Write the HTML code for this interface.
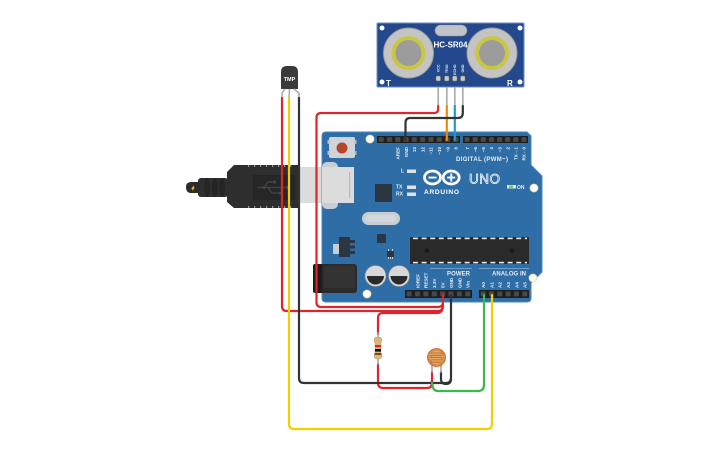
<!DOCTYPE html>
<html><head><meta charset="utf-8">
<style>
html,body{margin:0;padding:0;background:#fff;width:725px;height:453px;overflow:hidden}
svg{display:block}
text{font-family:"Liberation Sans",sans-serif}
</style></head>
<body>
<svg width="725" height="453" viewBox="0 0 725 453" xmlns="http://www.w3.org/2000/svg">
<defs>
<pattern id="h1" x="377" y="136" width="8.3" height="7" patternUnits="userSpaceOnUse"><rect x="1.7" y="1.2" width="4.9" height="4.6" fill="#4a4a4a"/></pattern>
<pattern id="h2" x="463" y="136" width="8.125" height="7" patternUnits="userSpaceOnUse"><rect x="1.6" y="1.2" width="4.9" height="4.6" fill="#4a4a4a"/></pattern>
<pattern id="h3" x="405" y="290" width="8.375" height="8" patternUnits="userSpaceOnUse"><rect x="1.7" y="1.5" width="4.9" height="4.8" fill="#4a4a4a"/></pattern>
<pattern id="h4" x="479" y="290" width="8.33" height="8" patternUnits="userSpaceOnUse"><rect x="1.7" y="1.5" width="4.9" height="4.8" fill="#4a4a4a"/></pattern>
<pattern id="dash" x="413" y="0" width="8.6" height="4" patternUnits="userSpaceOnUse"><rect x="0" y="0" width="5" height="4" fill="#e8e8e8"/></pattern>
</defs>

<!-- ===== USB plug ===== -->
<rect x="300" y="167" width="54" height="36" fill="#dcdcdc"/>
<rect x="349" y="172" width="1.2" height="26" fill="#b8b8b8"/>
<path d="M186,187 Q186,182 191,182 L199,182 L199,193 L191,193 Q186,193 186,187 Z" fill="#2b2b2b"/>
<path d="M191,189 L194,185 L193.5,187.5 L195,187.5 L192,191 L192.5,188.8 Z" fill="#f0d000"/>
<rect x="198" y="178" width="30" height="19" rx="3" fill="#2e2e2e"/>
<ellipse cx="207" cy="187.5" rx="3" ry="9.5" fill="#252525"/>
<ellipse cx="215" cy="187.5" rx="3" ry="9.5" fill="#252525"/>
<ellipse cx="222" cy="187.5" rx="3" ry="9.5" fill="#252525"/>
<path d="M227,172 L234,165 L300,165 L300,208 L234,208 L227,202 Z" fill="#2e2e2e"/>
<rect x="253" y="175" width="42" height="25" fill="#262626"/>
<g stroke="#444" stroke-width="1.3" fill="none">
<line x1="258" y1="187.5" x2="288" y2="187.5"/>
<path d="M264,187.5 L268,182 L274,182"/>
<path d="M268,187.5 L272,193 L279,193"/>
</g>
<circle cx="288" cy="187.5" r="1.8" fill="#444"/>
<circle cx="264" cy="187.5" r="1.5" fill="#444"/>
<rect x="273" y="180.5" width="3" height="3" fill="#444"/>
<circle cx="280" cy="193" r="1.5" fill="#444"/>
<g fill="#fff" opacity="0.5">
<rect x="248" y="165" width="1.2" height="2"/><rect x="254" y="165" width="1.2" height="2"/><rect x="260" y="165" width="1.2" height="2"/><rect x="266" y="165" width="1.2" height="2"/><rect x="272" y="165" width="1.2" height="2"/><rect x="278" y="165" width="1.2" height="2"/><rect x="284" y="165" width="1.2" height="2"/><rect x="290" y="165" width="1.2" height="2"/>
<rect x="248" y="206" width="1.2" height="2"/><rect x="254" y="206" width="1.2" height="2"/><rect x="260" y="206" width="1.2" height="2"/><rect x="266" y="206" width="1.2" height="2"/><rect x="272" y="206" width="1.2" height="2"/><rect x="278" y="206" width="1.2" height="2"/><rect x="284" y="206" width="1.2" height="2"/><rect x="290" y="206" width="1.2" height="2"/>
</g>

<!-- ===== Arduino board ===== -->
<path d="M326,132 L527,132 L531,136 L531,165 L542,176 L542,272 L531,283 L531,298 Q531,302 527,302 L326,302 Q322,302 322,298 L322,136 Q322,132 326,132 Z" fill="#2f6da6" stroke="#4c87bd" stroke-width="1"/>
<rect x="322" y="162" width="16" height="47" rx="5" fill="#c9cfd5"/>
<rect x="322" y="167" width="32" height="36" fill="#dcdcdc"/>
<rect x="349" y="172" width="1.2" height="26" fill="#b8b8b8"/>

<!-- reset button -->
<rect x="329" y="137" width="26" height="21" rx="2" fill="#d0d4d8"/>
<rect x="327.5" y="140" width="2" height="4" fill="#b8bcc0"/><rect x="327.5" y="151" width="2" height="4" fill="#b8bcc0"/>
<rect x="354.5" y="140" width="2" height="4" fill="#b8bcc0"/><rect x="354.5" y="151" width="2" height="4" fill="#b8bcc0"/>
<circle cx="342" cy="148" r="5.5" fill="#b5452a"/>

<!-- mounting holes -->
<circle cx="370" cy="139" r="4" fill="#fff" stroke="#e8dca0" stroke-width="0.8"/>
<circle cx="534" cy="188" r="4" fill="#fff" stroke="#e8dca0" stroke-width="0.8"/>
<circle cx="533" cy="278" r="4" fill="#fff" stroke="#e8dca0" stroke-width="0.8"/>
<circle cx="367" cy="294" r="4" fill="#fff" stroke="#e8dca0" stroke-width="0.8"/>

<!-- headers -->
<rect x="377" y="136" width="83" height="7" fill="#1f1f1f"/><rect x="377" y="136" width="83" height="7" fill="url(#h1)"/>
<rect x="463" y="136" width="65" height="7" fill="#1f1f1f"/><rect x="463" y="136" width="65" height="7" fill="url(#h2)"/>
<rect x="405" y="290" width="67" height="8" fill="#1f1f1f"/><rect x="405" y="290" width="67" height="8" fill="url(#h3)"/>
<rect x="479" y="290" width="50" height="8" fill="#1f1f1f"/><rect x="479" y="290" width="50" height="8" fill="url(#h4)"/>

<!-- top pin labels -->
<g fill="#e6eef6" font-size="4.6" font-weight="bold" text-anchor="end">
<text transform="translate(399.5,147) rotate(-90)">AREF</text>
<text transform="translate(407.8,147) rotate(-90)">GND</text>
<text transform="translate(416.1,147) rotate(-90)">13</text>
<text transform="translate(424.4,147) rotate(-90)">12</text>
<text transform="translate(432.7,147) rotate(-90)">~11</text>
<text transform="translate(441,147) rotate(-90)">~10</text>
<text transform="translate(449.3,147) rotate(-90)">~9</text>
<text transform="translate(457.6,147) rotate(-90)">8</text>
<text transform="translate(468.8,147) rotate(-90)">7</text>
<text transform="translate(476.9,147) rotate(-90)">~6</text>
<text transform="translate(485,147) rotate(-90)">~5</text>
<text transform="translate(493.2,147) rotate(-90)">4</text>
<text transform="translate(501.3,147) rotate(-90)">~3</text>
<text transform="translate(509.4,147) rotate(-90)">2</text>
<text transform="translate(517.5,147) rotate(-90)">TX→1</text>
<text transform="translate(525.6,147) rotate(-90)">RX←0</text>
</g>
<text x="456" y="161" fill="#e6eef6" font-size="6" font-weight="bold" textLength="52">DIGITAL (PWM~)</text>

<!-- LEDs -->
<g fill="#e6eef6" font-size="5" font-weight="bold">
<text x="401" y="172.5">L</text>
<text x="396" y="188.5">TX</text>
<text x="396" y="195.5">RX</text>
<text x="517" y="189">ON</text>
</g>
<rect x="407" y="169.5" width="9" height="3.5" fill="#dde2e6"/>
<rect x="407" y="185.5" width="9" height="3.5" fill="#dde2e6"/>
<rect x="407" y="192.5" width="9" height="3.5" fill="#dde2e6"/>
<rect x="507" y="185" width="9" height="3.5" fill="#dde2e6"/>
<rect x="509" y="185.5" width="4" height="2.5" fill="#55e04a"/>

<!-- logo -->
<ellipse cx="432.5" cy="177.5" rx="8" ry="6.5" fill="none" stroke="#fff" stroke-width="2.8"/>
<ellipse cx="451.2" cy="177.5" rx="8" ry="6.5" fill="none" stroke="#fff" stroke-width="2.8"/>
<rect x="428.5" y="176.6" width="8" height="1.9" fill="#fff"/>
<rect x="447.2" y="176.6" width="8" height="1.9" fill="#fff"/>
<rect x="450.3" y="173.5" width="1.9" height="8" fill="#fff"/>
<text x="424" y="194" fill="#fff" font-size="6.6" font-weight="bold" textLength="35">ARDUINO</text>
<text x="469" y="183.5" fill="none" stroke="#fff" stroke-width="0.7" font-size="13.5" textLength="31">UNO</text>

<!-- ICs etc -->
<rect x="375" y="184" width="17" height="18" fill="#2b3640"/>
<rect x="362" y="212" width="38" height="13" rx="6.5" fill="#c8cdd2"/>
<rect x="366" y="215" width="30" height="7" rx="3.5" fill="#d4d8dc"/>
<rect x="377" y="234" width="9" height="9" fill="#2b3640"/>
<rect x="333" y="244" width="7" height="10" fill="#c5ccd3"/>
<rect x="339" y="237" width="11" height="20" fill="#2b3640"/>
<rect x="350" y="240" width="5" height="3" fill="#2b3640"/>
<rect x="350" y="245.5" width="5" height="3" fill="#2b3640"/>
<rect x="350" y="251" width="5" height="3" fill="#2b3640"/>
<rect x="387" y="251" width="7" height="6" fill="#2b3640"/>
<rect x="388" y="249" width="1" height="2" fill="#ccc"/><rect x="392" y="249" width="1" height="2" fill="#ccc"/>
<rect x="388" y="257" width="1" height="2" fill="#ccc"/><rect x="390" y="257" width="1" height="2" fill="#ccc"/><rect x="392" y="257" width="1" height="2" fill="#ccc"/>

<!-- main chip -->
<rect x="410" y="237" width="119" height="27" rx="1" fill="#2a2a2a"/>
<rect x="413" y="237.6" width="114" height="1.6" fill="url(#dash)"/>
<rect x="413" y="261.8" width="114" height="1.6" fill="url(#dash)"/>
<circle cx="427" cy="250.5" r="2.3" fill="#1a1a1a"/>
<circle cx="512" cy="250.5" r="2.3" fill="#1a1a1a"/>

<!-- power jack -->
<rect x="313" y="264" width="44" height="29" rx="3" fill="#2a2a2a"/>
<rect x="313" y="264" width="9" height="29" rx="2" fill="#1c1c1c"/>
<rect x="324" y="266" width="31" height="22" rx="2" fill="#333"/>

<!-- capacitors -->
<circle cx="375.5" cy="276" r="10.5" fill="#d8d8d8" stroke="#8e8e8e" stroke-width="0.6"/>
<path d="M367,276 A8.5,8.5 0 0 0 384,276 Z" fill="#2b2b2b"/>
<circle cx="399" cy="276" r="10.5" fill="#d8d8d8" stroke="#8e8e8e" stroke-width="0.6"/>
<path d="M390.5,276 A8.5,8.5 0 0 0 407.5,276 Z" fill="#2b2b2b"/>

<!-- bottom labels -->
<rect x="430" y="268.3" width="42" height="0.6" fill="#9fbcd8"/>
<rect x="479" y="268.3" width="50" height="0.6" fill="#9fbcd8"/>
<text x="447" y="275.5" fill="#e6eef6" font-size="6" font-weight="bold" textLength="23">POWER</text>
<text x="492" y="275.5" fill="#e6eef6" font-size="6" font-weight="bold" textLength="34">ANALOG IN</text>
<g fill="#e6eef6" font-size="4.6" font-weight="bold">
<text transform="translate(419.3,288) rotate(-90)">IOREF</text>
<text transform="translate(427.7,288) rotate(-90)">RESET</text>
<text transform="translate(436.1,288) rotate(-90)">3.3V</text>
<text transform="translate(444.5,288) rotate(-90)">5V</text>
<text transform="translate(452.9,288) rotate(-90)">GND</text>
<text transform="translate(461.3,288) rotate(-90)">GND</text>
<text transform="translate(469.7,288) rotate(-90)">Vin</text>
<text transform="translate(485,288) rotate(-90)">A0</text>
<text transform="translate(493.3,288) rotate(-90)">A1</text>
<text transform="translate(501.6,288) rotate(-90)">A2</text>
<text transform="translate(510,288) rotate(-90)">A3</text>
<text transform="translate(518.3,288) rotate(-90)">A4</text>
<text transform="translate(526.6,288) rotate(-90)">A5</text>
</g>

<!-- ===== HC-SR04 ===== -->
<rect x="377" y="23" width="147" height="64" rx="1" fill="#23488b" stroke="#6f8dc0" stroke-width="1"/>
<circle cx="382" cy="28" r="2.5" fill="#fff"/><circle cx="520" cy="28" r="2.5" fill="#fff"/>
<circle cx="382" cy="82" r="2.5" fill="#fff"/><circle cx="520" cy="82" r="2.5" fill="#fff"/>
<rect x="435" y="25" width="32" height="11" rx="5.5" fill="#c0c4c8" stroke="#8a8f95" stroke-width="0.6"/>
<circle cx="408.5" cy="53" r="25" fill="#c4c4c4" stroke="#9a9a9a" stroke-width="1"/>
<circle cx="408.5" cy="53" r="17" fill="#c9c741"/>
<circle cx="408.5" cy="53" r="13" fill="#9c9c9c"/>
<circle cx="492" cy="53" r="25" fill="#c4c4c4" stroke="#9a9a9a" stroke-width="1"/>
<circle cx="492" cy="53" r="17" fill="#c9c741"/>
<circle cx="492" cy="53" r="13" fill="#9c9c9c"/>
<text x="433.5" y="47.5" fill="#fff" font-size="8" font-weight="bold" textLength="34">HC-SR04</text>
<text x="386" y="86" fill="#fff" font-size="8" font-weight="bold">T</text>
<text x="507" y="86" fill="#fff" font-size="8" font-weight="bold">R</text>
<g fill="#e6eef6" font-size="3.6" font-weight="bold" text-anchor="end">
<text transform="translate(439.5,64.5) rotate(-90)">VCC</text>
<text transform="translate(448,64.5) rotate(-90)">TRIG</text>
<text transform="translate(456,64.5) rotate(-90)">ECHO</text>
<text transform="translate(464,64.5) rotate(-90)">GND</text>
</g>
<g fill="#c8c8c8" stroke="#777" stroke-width="0.5">
<rect x="436" y="76" width="4.5" height="5" rx="1"/>
<rect x="444.5" y="76" width="4.5" height="5" rx="1"/>
<rect x="452.5" y="76" width="4.5" height="5" rx="1"/>
<rect x="460.5" y="76" width="4.5" height="5" rx="1"/>
</g>
<g stroke="#a9a9a9" stroke-width="1.6">
<line x1="438.2" y1="87" x2="438.2" y2="106"/>
<line x1="446.8" y1="87" x2="446.8" y2="106"/>
<line x1="454.8" y1="87" x2="454.8" y2="106"/>
<line x1="462.8" y1="87" x2="462.8" y2="106"/>
</g>

<!-- ===== TMP sensor ===== -->
<path d="M281,89 L281,72 Q281,66 287,66 L292,66 Q298,66 298,72 L298,89 Z" fill="#3a3a3a"/>
<text x="289.5" y="81" fill="#fff" font-size="5.5" font-weight="bold" text-anchor="middle">TMP</text>
<g stroke="#a9a9a9" stroke-width="1.5" fill="none">
<path d="M285,89 L282,93 L282,98"/>
<path d="M289.5,89 L289,98"/>
<path d="M294,89 L299,93 L299,98"/>
</g>

<!-- ===== Wires ===== -->
<g fill="none" stroke-width="2.2" stroke-linecap="round" stroke-linejoin="round">
<path d="M438.2,106 L438.2,109 Q438.2,113 434,113 L321,113 Q316.5,113 316.5,118 L316.5,302 Q316.5,307 321,307 L438,307 Q443,307 443,302 L443,295" stroke="#e0242b"/>
<path d="M282,98 L282,306 Q282,311 287,311 L438,311 Q443,311 443,305" stroke="#e0242b"/>
<path d="M443,305 Q443,313 437,313 L383,313 Q378,313 378,318 L378,334" stroke="#e0242b"/>
<path d="M378,364 L378,383 Q378,388 383,388 L427,388 Q432,388 432,383 L432,372" stroke="#e0242b"/>
<path d="M446.8,106 L446.8,140" stroke="#f28a00"/>
<path d="M454.8,106 L454.8,140" stroke="#1a9ad6"/>
<path d="M462.8,106 L462.8,113 Q462.8,118 458,118 L410,118 Q405.5,118 405.5,123 L405.5,140" stroke="#333"/>
<path d="M299,98 L299,378 Q299,383 304,383 L446,383 Q451,383 451,378 L451,295" stroke="#333"/>
<path d="M441,372 L441,379 Q441,384 446,384 Q451,384 451,379" stroke="#333"/>
<path d="M289,98 L289,424 Q289,429 294,429 L487,429 Q492,429 492,424 L492,295" stroke="#f2d000"/>
<path d="M484,295 L484,385 Q484,391 478,391 L438,391 Q433,391 432.5,385 L432,383" stroke="#3db84a"/>
</g>

<!-- ===== Resistor ===== -->
<g stroke="#a0a0a0" stroke-width="1.5">
<line x1="378" y1="332" x2="378" y2="338"/>
<line x1="378" y1="358" x2="378" y2="365"/>
</g>
<path d="M374,340 Q374,337 378,337 Q382,337 382,340 L381,343 L381,353 L382,356 Q382,359 378,359 Q374,359 374,356 L375,353 L375,343 Z" fill="#d8b77c" stroke="#b89860" stroke-width="0.5"/>
<rect x="375" y="345" width="6" height="2.2" fill="#e0242b"/>
<rect x="375" y="349" width="6" height="2.6" fill="#111"/>
<rect x="374.5" y="353" width="7" height="2" fill="#7a4a22"/>

<!-- ===== LDR ===== -->
<g stroke="#a0a0a0" stroke-width="1.5">
<line x1="432" y1="365" x2="432" y2="373"/>
<line x1="441" y1="365" x2="441" y2="373"/>
</g>
<circle cx="436.5" cy="357.5" r="9" fill="#d98b45" stroke="#b86a2a" stroke-width="0.8"/>
<circle cx="436.5" cy="357.5" r="6.8" fill="#e6a866"/>
<path d="M431,353 L442,353 L442,355.3 L431,355.3 L431,357.6 L442,357.6 L442,359.9 L431,359.9 L431,362.2 L441,362.2" fill="none" stroke="#b8642a" stroke-width="0.8"/>
</svg>
</body></html>
